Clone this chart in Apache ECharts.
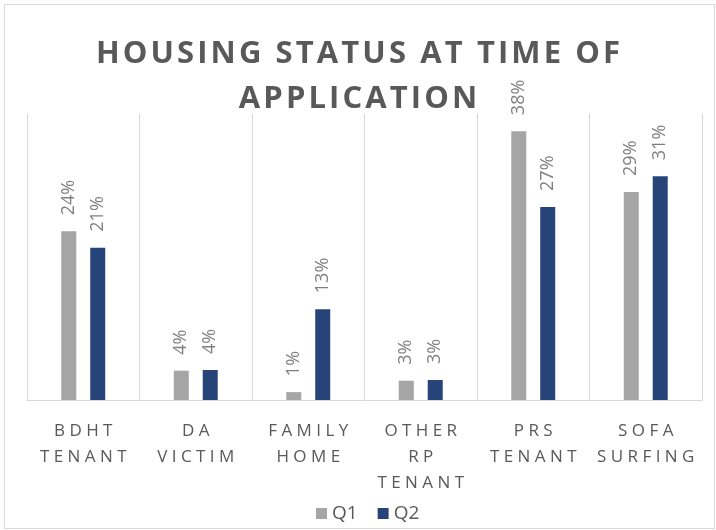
<!DOCTYPE html>
<html>
<head>
<meta charset="utf-8">
<script src="https://cdn.jsdelivr.net/npm/echarts@6/dist/echarts.min.js"></script>
<style>
  html, body { margin: 0; padding: 0; background: #fff; }
  #frame { position: absolute; left: 4px; top: 4px; width: 709px; height: 523px; border: 1px solid #d9d9d9; }
  #main { position: absolute; left: 0; top: 0; width: 716px; height: 530px; }
</style>
</head>
<body>
<div id="frame"></div>
<div id="main"></div>
<script>
// categories, one line per word
const categories = [
  ['BDHT', 'TENANT'],
  ['DA', 'VICTIM'],
  ['FAMILY', 'HOME'],
  ['OTHER', 'RP', 'TENANT'],
  ['PRS', 'TENANT'],
  ['SOFA', 'SURFING']
]
const seriesNames = ['Q1', 'Q2']
const q1 = [23.6, 4.1, 1.1, 2.7, 37.6, 29.1]
const q2 = [21.3, 4.2, 12.7, 2.8, 27.0, 31.3]

const font = '"Open Sans", sans-serif'

// no letter-spacing in zrender, so pad letters with spaces
function spaced(word, sep) {
  return word.split('').join(sep)
}

const chart = echarts.init(document.getElementById('main'))

const option = {
  title: {
    text: spaced('HOUSING STATUS AT TIME OF', '\u200A') + '\n' + spaced('APPLICATION', '\u200A'),
    left: 'center',
    top: 27,
    textStyle: {
      fontFamily: font,
      fontWeight: 'bold',
      fontSize: 31,
      lineHeight: 45,
      color: '#595959'
    }
  },
  legend: {
    data: seriesNames,
    left: 311,
    bottom: 2,
    itemWidth: 11,
    itemHeight: 11,
    itemGap: 20,
    icon: 'rect',
    textStyle: { fontFamily: font, fontSize: 19, color: '#595959' }
  },
  grid: {
    left: 27,
    right: 14,
    top: 114,
    bottom: 130
  },
  xAxis: {
    type: 'category',
    data: categories.map(c => c.map(w => spaced(w, ' ')).join('\n')),
    axisTick: { show: false },
    axisLine: { lineStyle: { color: '#d9d9d9', width: 1 } },
    splitLine: { show: true, interval: 0, lineStyle: { color: '#d9d9d9', width: 1 } },
    axisLabel: {
      interval: 0,
      margin: 18,
      fontFamily: font,
      fontSize: 17,
      lineHeight: 26,
      color: '#595959'
    }
  },
  yAxis: {
    type: 'value',
    min: 0,
    max: 40,
    show: false,
    splitLine: { show: false }
  },
  series: [
    {
      name: 'Q1',
      type: 'bar',
      data: q1,
      barWidth: 15,
      barGap: '93%',
      itemStyle: { color: '#a5a5a5' },
      label: {
        show: true,
        position: 'top',
        rotate: 90,
        align: 'left',
        verticalAlign: 'middle',
        distance: 16,
        fontFamily: font,
        fontSize: 18,
        color: '#808080',
        formatter: p => Math.round(p.value) + '%'
      }
    },
    {
      name: 'Q2',
      type: 'bar',
      data: q2,
      barWidth: 15,
      itemStyle: { color: '#264478' },
      label: {
        show: true,
        position: 'top',
        rotate: 90,
        align: 'left',
        verticalAlign: 'middle',
        distance: 16,
        fontFamily: font,
        fontSize: 18,
        color: '#808080',
        formatter: p => Math.round(p.value) + '%'
      }
    }
  ]
}

chart.setOption(option)
</script>
</body>
</html>
